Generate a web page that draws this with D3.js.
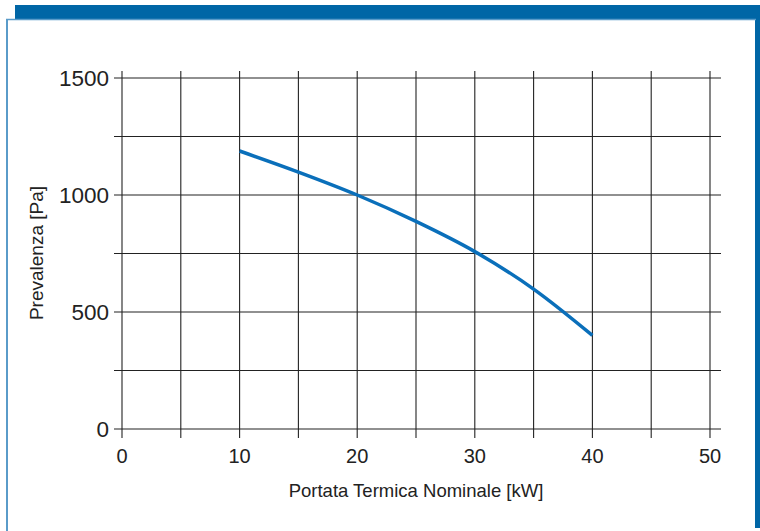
<!DOCTYPE html>
<html><head><meta charset="utf-8">
<script src="https://cdn.jsdelivr.net/npm/d3@7"></script>
<style>html,body{margin:0;padding:0;background:#fff;}svg{display:block;}</style>
</head><body>
<svg id="c" width="760" height="531"></svg>
<script>
const xTicks = [0, 10, 20, 30, 40, 50];
const yTicks = [0, 500, 1000, 1500];
const xGrid = [0,5,10,15,20,25,30,35,40,45,50];
const yGrid = [0,250,500,750,1000,1250,1500];
const flow = [10, 15, 20, 25, 30, 35, 40];
const head = [1188, 1098, 1000, 887, 758, 598, 400];
const xTitle = "Portata Termica Nominale [kW]";
const yTitle = "Prevalenza [Pa]";

const svg = d3.select("#c");
// frame
svg.append("rect").attr("x",15).attr("y",5).attr("width",745).attr("height",14).attr("fill","#0066a6");
svg.append("rect").attr("x",755).attr("y",5).attr("width",5).attr("height",523).attr("fill","#0066a6");
svg.append("line").attr("x1",6).attr("x2",756).attr("y1",19.5).attr("y2",19.5).attr("stroke","#5a9bc9").attr("stroke-width",1.5);
svg.append("line").attr("x1",7).attr("x2",7).attr("y1",19).attr("y2",531).attr("stroke","#5a9bc9").attr("stroke-width",2);

const x = d3.scaleLinear().domain([0,50]).range([122,710]);
const y = d3.scaleLinear().domain([0,1500]).range([429,78]);

const g = svg.append("g");
g.selectAll(".vg").data(xGrid).join("line")
  .attr("x1",d=>x(d)).attr("x2",d=>x(d)).attr("y1",y(1500)-7).attr("y2",y(0)+9)
  .attr("stroke","#222").attr("stroke-width",1.1);
g.selectAll(".hg").data(yGrid).join("line")
  .attr("x1",x(0)-8).attr("x2",x(50)+11).attr("y1",d=>y(d)).attr("y2",d=>y(d))
  .attr("stroke","#222").attr("stroke-width",1.1);

const font = "'Liberation Sans', Arial, sans-serif";
g.selectAll(".xt").data(xTicks).join("text")
  .attr("x",d=>x(d)).attr("y",463).attr("text-anchor","middle")
  .attr("font-family",font).attr("font-size",20).attr("fill","#222").text(d=>d);
g.selectAll(".yt").data(yTicks).join("text")
  .attr("x",x(0)-13).attr("y",d=>y(d)+8).attr("text-anchor","end")
  .attr("font-family",font).attr("font-size",22.5).attr("fill","#222").text(d=>d);

svg.append("text").attr("x",416).attr("y",497).attr("text-anchor","middle")
  .attr("font-family",font).attr("font-size",18.5).attr("fill","#222").text(xTitle);
svg.append("text").attr("transform","translate(43,253) rotate(-90)").attr("text-anchor","middle")
  .attr("font-family",font).attr("font-size",19).attr("fill","#222").text(yTitle);

const data = flow.map((f,i)=>[f,head[i]]);
svg.append("path").datum(data)
  .attr("d", d3.line().x(d=>x(d[0])).y(d=>y(d[1])).curve(d3.curveMonotoneX))
  .attr("fill","none").attr("stroke","#0a6fba").attr("stroke-width",3.5);
</script>
</body></html>
